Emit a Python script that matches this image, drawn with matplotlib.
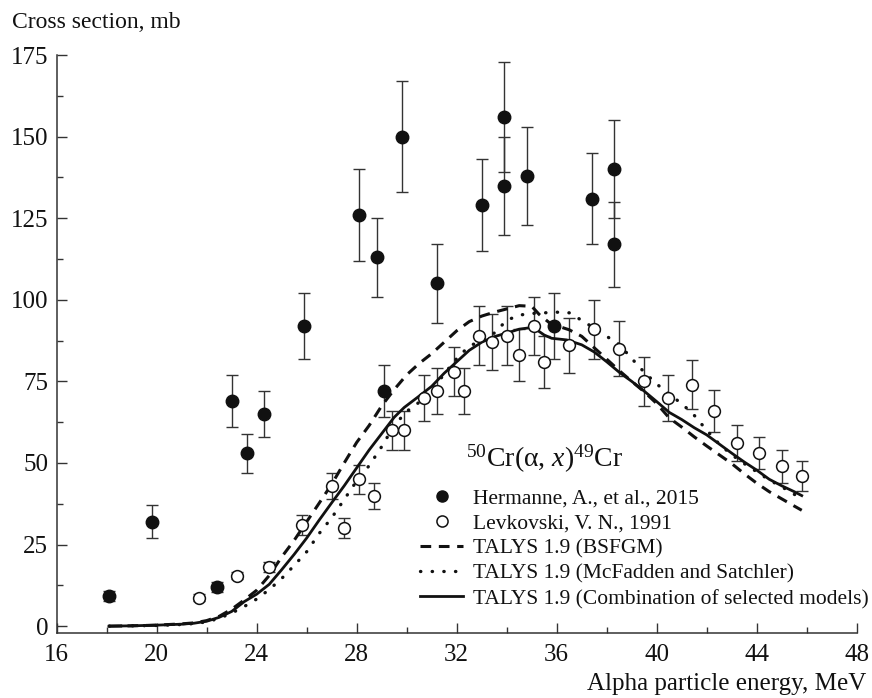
import numpy as np
import matplotlib
matplotlib.use('Agg')
import matplotlib.pyplot as plt
from matplotlib.ticker import MultipleLocator
from matplotlib.lines import Line2D

plt.rcParams['font.family'] = ['Liberation Serif', 'DejaVu Serif']
plt.rcParams['mathtext.fontset'] = 'custom'
plt.rcParams['mathtext.rm'] = 'Liberation Serif'
plt.rcParams['mathtext.it'] = 'Liberation Serif:italic'

# Hermanne, A., et al., 2015 (filled)
herm_e = [18.1, 19.8, 22.4, 23.0, 23.6, 24.3, 25.9, 28.1, 28.8, 29.1, 29.8, 31.2,
          33.0, 33.9, 33.9, 34.8, 35.9, 37.4, 38.3, 38.3]
herm_cs = [9.3, 32, 12, 69, 53, 65, 92, 126, 113, 72, 150, 105,
           129, 135, 156, 138, 92, 131, 140, 117]
herm_err = [1.5, 5, 1.5, 8, 6, 7, 10, 14, 12, 8, 17, 12,
            14, 15, 17, 15, 10, 14, 15, 13]

# Levkovski, V. N., 1991 (open)
lev_e = [21.7, 23.2, 24.5, 25.8, 27.0, 27.5, 28.1, 28.7, 29.4, 29.9, 30.7, 31.2,
         31.9, 32.3, 32.9, 33.4, 34.0, 34.5, 35.1, 35.5, 36.5, 37.5, 38.5, 39.5,
         40.45, 41.4, 42.3, 43.2, 44.1, 45.0, 45.8]
lev_cs = [8.7, 15.5, 18, 31, 43, 30, 45, 40, 60, 60, 70, 72,
          78, 72, 89, 87, 89, 83, 92, 81, 86, 91, 85, 75,
          70, 74, 66, 56, 53, 49, 46]
lev_err = [1, 1, 1.5, 3, 4, 3, 4.5, 4, 6, 6, 7, 7,
           7.5, 7, 9, 8.5, 9, 8, 9, 8, 8.5, 9, 8.5, 7.5,
           7, 7.5, 6.5, 5.5, 5, 5, 4.5]

# TALYS 1.9 curves
bsfgm_e = [18.1, 19, 20, 21, 21.5, 22, 22.5, 23, 23.5, 24, 24.5, 25, 25.5, 26, 26.5,
           27, 27.5, 28, 28.5, 29, 29.5, 30, 30.5, 31, 31.5, 32, 32.5, 33, 33.5, 34,
           34.5, 35, 35.3, 35.7, 36.1, 36.5, 37, 37.5, 38, 38.5, 39, 39.5, 40, 40.5,
           41, 41.5, 42, 42.5, 43, 43.5, 44, 44.5, 45, 45.5, 45.8]
bsfgm_cs = [0, 0.1, 0.3, 0.7, 1.0, 1.7, 3.0, 5.2, 8, 11, 15.5, 21.2, 26.3, 32, 37.7,
            43.5, 50, 56.3, 61.5, 67.5, 72.5, 77, 80.5, 83.5, 87, 90.5, 93.3, 95, 96.2, 97.2,
            98.2, 98, 95.5, 93, 91.8, 90.8, 88.8, 85.3, 81.8, 78.3, 75, 71.8, 68.2, 63.8,
            61, 58, 55.2, 52.5, 49.8, 46.7, 43.8, 41.2, 39, 36.8, 35.5]

mcf_e = [18.1, 19, 20, 21, 21.5, 22, 22.5, 23, 23.5, 24, 24.5, 25, 25.5, 26, 26.5,
         27, 27.5, 28, 28.5, 29, 29.5, 30, 30.5, 31, 31.5, 32, 32.5, 33, 33.5, 34,
         34.5, 35, 35.5, 36, 36.5, 37, 37.5, 38, 38.5, 39, 39.5, 40, 40.5, 41, 41.5,
         42, 42.5, 43, 43.5, 44, 44.5, 45, 45.5, 45.8]
mcf_cs = [0, 0.1, 0.2, 0.5, 0.8, 1.3, 2.4, 4, 6, 8.3, 11.2, 14.6, 18.6, 22.8, 28.4,
          33.2, 38.8, 44.5, 49.2, 55, 61.5, 65.8, 68.6, 72, 77.3, 82, 85.8, 87.5, 89.8, 93.7,
          95.3, 95.8, 96, 96.2, 96, 93.7, 91.3, 88.8, 86.3, 82, 77.8, 74.2, 71, 68.2, 64.6,
          60, 55.8, 52.5, 49.8, 47.3, 44.8, 42.7, 40.4, 39]

comb_e = [18.1, 19, 20, 21, 21.5, 22, 22.5, 23, 23.5, 24, 24.5, 25, 25.5, 26, 26.5,
          27, 27.5, 28, 28.5, 29, 29.5, 29.9, 30.5, 31, 31.5, 32, 32.5, 33, 33.5, 34,
          34.5, 34.9, 35.2, 35.5, 35.8, 36.4, 37, 37.5, 38, 38.5, 39, 39.5, 40, 40.5,
          41, 41.5, 42, 42.5, 43, 43.5, 44, 44.5, 45, 45.5, 45.8]
comb_cs = [0, 0.1, 0.3, 0.6, 0.9, 1.5, 2.7, 4.5, 7.5, 9.8, 12.8, 17.3, 22, 27, 32.5,
           37.8, 43, 48.5, 54, 59, 64, 67, 70.5, 73.5, 77.5, 81, 84.5, 87, 88.7, 89.8,
           91, 91.4, 90.8, 89.2, 88.2, 87.7, 86.2, 84, 81, 77.8, 75, 72, 68.8, 65.5,
           63.3, 60.8, 58.6, 55.8, 53, 50.3, 47.8, 45, 43, 41.2, 40]

fig = plt.figure(figsize=(8.72, 6.98), dpi=100)
ax = fig.add_axes([0.065, 0.0936, 0.9175, 0.8276])

ecol = '#333333'
ax.errorbar(herm_e, herm_cs, yerr=herm_err, fmt='none', ecolor=ecol,
            elinewidth=1.0, capsize=4, capthick=1.0, zorder=2)
ax.errorbar(lev_e, lev_cs, yerr=lev_err, fmt='none', ecolor=ecol,
            elinewidth=1.0, capsize=4, capthick=1.0, zorder=2)

dash_style = dict(color='#111111', lw=2.2, dashes=(3.5, 2.5))
dot_style = dict(color='#111111', lw=2.4, dashes=(0.1, 3.4), dash_capstyle='round')
solid_style = dict(color='#111111', lw=2.0)

ax.plot(bsfgm_e, bsfgm_cs, zorder=3, **dash_style)
ax.plot(mcf_e, mcf_cs, zorder=3, **dot_style)
ax.plot(comb_e, comb_cs, zorder=3, **solid_style)

ax.plot(herm_e, herm_cs, 'o', ms=9, color='#111111', zorder=4)
ax.plot(lev_e, lev_cs, 'o', ms=8.5, mfc='white', mec='#111111', mew=1.1, zorder=4)

ax.set_xlim(16, 48)
ax.set_ylim(-2, 175)
ax.xaxis.set_major_locator(MultipleLocator(4))
ax.xaxis.set_minor_locator(MultipleLocator(2))
ax.yaxis.set_major_locator(MultipleLocator(25))
ax.yaxis.set_minor_locator(MultipleLocator(12.5))
for s in ['top', 'right']:
    ax.spines[s].set_visible(False)
for s in ['left', 'bottom']:
    ax.spines[s].set_linewidth(1.1)
    ax.spines[s].set_color('#333333')
ax.tick_params(which='both', direction='in', colors='#333333', labelcolor='#111111',
               labelsize=18)
ax.tick_params(which='major', length=7, width=1.0)
ax.tick_params(which='minor', length=4, width=1.0)
ax.tick_params(axis='x', pad=8)
ax.tick_params(axis='y', pad=6)

fig.text(0.014, 0.968, 'Cross section, mb', fontsize=17, ha='left', va='center',
         color='#111111')
fig.text(0.993, 0.02, 'Alpha particle energy, MeV', fontsize=18, ha='right',
         va='center', color='#111111')

ax.text(0.512, 0.30, r'$^{50}$Cr(α, $x$)$^{49}$Cr', transform=ax.transAxes,
        fontsize=20, ha='left', va='center', color='#111111')

handles = [
    Line2D([], [], ls='none', marker='o', ms=8, color='#111111'),
    Line2D([], [], ls='none', marker='o', ms=8, mfc='white', mec='#111111', mew=1.1),
    Line2D([], [], **dash_style),
    Line2D([], [], **dot_style),
    Line2D([], [], **solid_style),
]
labels = ['Hermanne, A., et al., 2015', 'Levkovski, V. N., 1991', 'TALYS 1.9 (BSFGM)',
          'TALYS 1.9 (McFadden and Satchler)', 'TALYS 1.9 (Combination of selected models)']
leg = fig.legend(handles, labels, loc='upper left', bbox_to_anchor=(420 / 872, 1 - 488 / 698),
                 frameon=False, fontsize=15.5, borderpad=0, borderaxespad=0,
                 handletextpad=0.45, labelspacing=0.24, handlelength=2.0, numpoints=1)
for t in leg.get_texts():
    t.set_color('#111111')

fig.savefig('out.png', dpi=100)
